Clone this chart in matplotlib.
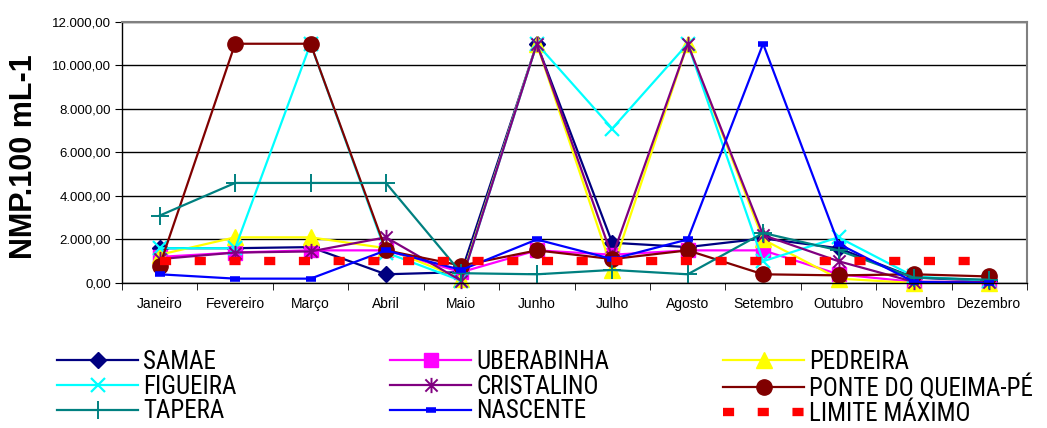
import matplotlib
matplotlib.use("Agg")
import matplotlib.pyplot as plt
from matplotlib import font_manager
from matplotlib.path import Path
from matplotlib.ticker import FuncFormatter, FixedLocator
import numpy as np

months = ["Janeiro", "Fevereiro", "Março", "Abril", "Maio", "Junho", "Julho",
          "Agosto", "Setembro", "Outubro", "Novembro", "Dezembro"]

samae      = [1600, 1600, 1650, 400, 500, 11000, 1850, 1650, 2050, 1600, 250, 100]
uberabinha = [1200, 1400, 1500, 1500, 500, 1500, 1300, 1500, 1500, 400, 50, 50]
pedreira   = [1300, 2100, 2100, 1600, 200, 11000, 600, 11000, 2000, 200, 0, 0]
figueira   = [1600, 1600, 11000, 1400, 100, 11000, 7100, 11000, 1000, 2100, 300, 100]
cristalino = [1100, 1400, 1450, 2100, 100, 11000, 1200, 11000, 2200, 1000, 50, 50]
ponte      = [800, 11000, 11000, 1500, 800, 1500, 1100, 1500, 400, 350, 400, 300]
tapera     = [3100, 4600, 4600, 4600, 450, 400, 600, 400, 2300, 1500, 250, 150]
nascente   = [400, 200, 200, 1500, 600, 2000, 1100, 2000, 11000, 1800, 50, 0]
limite     = [1000] * 12

plt.rcParams['font.family'] = ['Liberation Sans', 'DejaVu Sans']
plt.rcParams['lines.scale_dashes'] = False

# pick a condensed family for the legend if one is installed
leg_family = 'Liberation Sans'
for fam in ['Liberation Sans Narrow', 'Arial Narrow', 'DejaVu Sans Condensed',
            'Roboto Condensed', 'Open Sans Condensed']:
    try:
        font_manager.findfont(font_manager.FontProperties(family=fam),
                              fallback_to_default=False)
        leg_family = fam
        break
    except Exception:
        pass

# six-armed Excel-style asterisk: x plus vertical bar
star_path = Path(
    [(-1, -1), (1, 1), (-1, 1), (1, -1), (0, -1.25), (0, 1.25)],
    [Path.MOVETO, Path.LINETO, Path.MOVETO, Path.LINETO, Path.MOVETO, Path.LINETO])

fig = plt.figure(figsize=(10.47, 4.28), dpi=100)
ax = fig.add_axes([0.1165, 0.3388, 0.981 - 0.1165, 0.9486 - 0.3388])

x = np.arange(len(months))
lw = 1.6
series = [
    ("SAMAE", samae, dict(color="#000080", marker="D", ms=8, mfc="#000080", mec="#000080")),
    ("UBERABINHA", uberabinha, dict(color="#FF00FF", marker="s", ms=10, mfc="#FF00FF", mec="#FF00FF")),
    ("PEDREIRA", pedreira, dict(color="#FFFF00", marker="^", ms=11, mfc="#FFFF00", mec="#FFFF00")),
    ("FIGUEIRA", figueira, dict(color="#00FFFF", marker="x", ms=10, mew=1.6, mec="#00FFFF")),
    ("CRISTALINO", cristalino, dict(color="#800080", marker=star_path, ms=11, mew=1.4, mec="#800080", mfc="none")),
    ("PONTE DO QUEIMA-PÉ", ponte, dict(color="#800000", marker="o", ms=11, mfc="#800000", mec="#800000")),
    ("TAPERA", tapera, dict(color="#008080", marker="+", ms=13, mew=1.4, mec="#008080")),
    ("NASCENTE", nascente, dict(color="#0000FF", marker="_", ms=7, mew=4, mec="#0000FF")),
]
handles = []
for name, vals, kw in series:
    h, = ax.plot(x, vals, lw=lw, label=name, clip_on=False, **kw)
    handles.append(h)
hl, = ax.plot(x, limite, color="#FF0000", lw=6, linestyle=(0, (8, 17)),
              label="LIMITE MÁXIMO", solid_capstyle="butt", dash_capstyle="butt")
handles.append(hl)

ax.set_xlim(-0.5, 11.5)
ax.set_ylim(0, 12000)
ax.set_yticks(np.arange(0, 12001, 2000))
ax.yaxis.set_major_formatter(FuncFormatter(
    lambda v, p: f"{v:,.2f}".replace(",", "X").replace(".", ",").replace("X", ".")))
ax.grid(axis="y", color="black", lw=1)
ax.set_axisbelow(True)

ax.set_xticks(x)
ax.set_xticklabels(months, fontsize=10)
ax.xaxis.set_minor_locator(FixedLocator(np.arange(-0.5, 12, 1)))
ax.tick_params(axis="x", which="major", length=0, pad=10)
ax.tick_params(axis="x", which="minor", length=5, direction="out", color="black")
ax.tick_params(axis="y", length=5, direction="out", labelsize=9.5, pad=3)

for s in ["top", "right"]:
    ax.spines[s].set_color("#808080")
    ax.spines[s].set_linewidth(1.5)
for s in ["left", "bottom"]:
    ax.spines[s].set_color("black")
    ax.spines[s].set_linewidth(1)

fig.text(0.023, 0.635, "NMP.100 mL-1", rotation=90, fontsize=22, fontweight="bold",
         ha="center", va="center")

# fit legend font so the longest label spans about 236 px as in the reference
renderer = fig.canvas.get_renderer()
probe = fig.text(0, 0, "PONTE DO QUEIMA-PÉ", family=leg_family, size=18)
wpx = probe.get_window_extent(renderer).width
probe.remove()
leg_size = min(18.0, 18.0 * 236.0 / wpx)

legfont = dict(family=leg_family, size=leg_size)
cols = [[0, 3, 6], [1, 4, 7], [2, 5, 8]]
xpos = [57 / 1047, 390 / 1047, 723 / 1047]
hlen = 81.0 / (leg_size * 100 / 72)
for c, xp in zip(cols, xpos):
    fig.legend([handles[i] for i in c], [handles[i].get_label() for i in c],
               loc="upper left", bbox_to_anchor=(xp, 1 - 350 / 428), frameon=False,
               prop=legfont, handlelength=hlen, handletextpad=0.2,
               labelspacing=0.03, borderaxespad=0, borderpad=0)

fig.savefig("out.png", dpi=100)
